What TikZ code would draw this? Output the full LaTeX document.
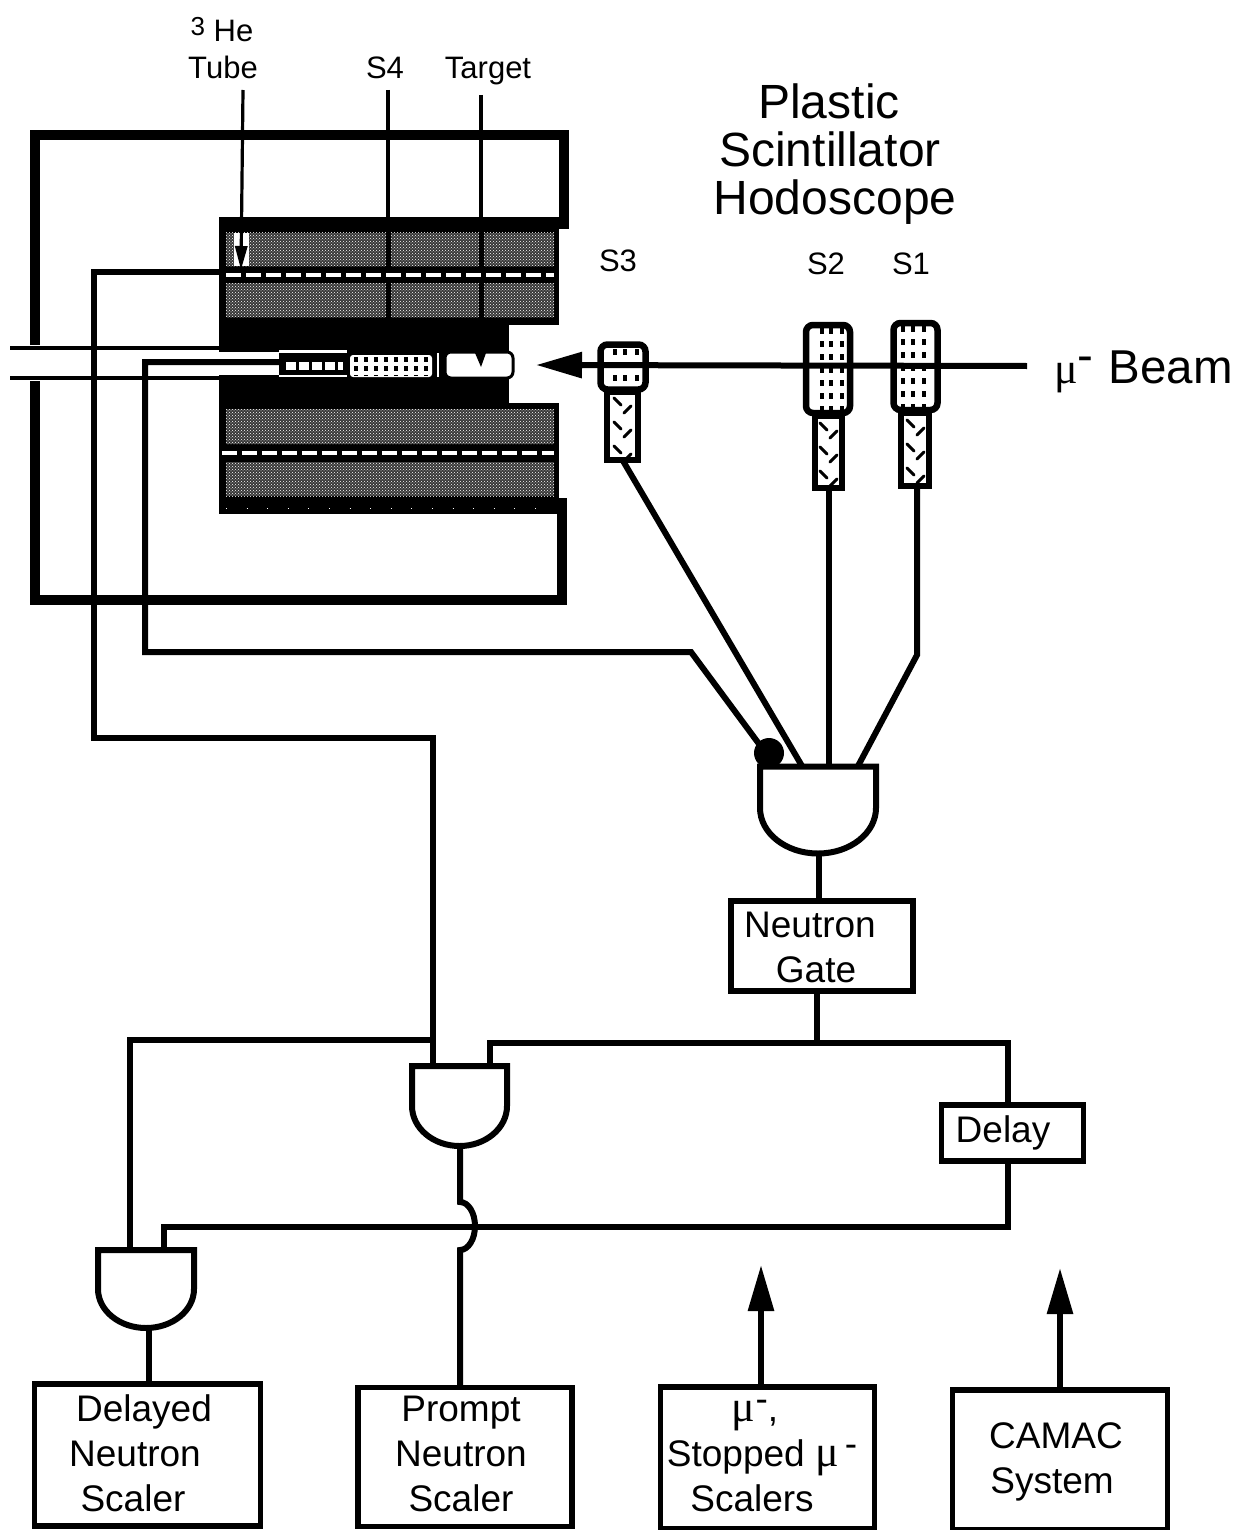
\documentclass[tikz,border=0pt]{standalone}
\usepackage{fontspec}
\setmainfont{Liberation Sans}
\newfontfamily\greekfont{Liberation Serif}
\usetikzlibrary{arrows.meta,patterns}
\newcommand{\muchar}{{\greekfont\fontsize{44}{44}\selectfont μ}}
\newcommand{\fs}[2]{\fontsize{#1}{#2}\selectfont}
\tikzset{
  x=1pt,y=-1pt,
  wire/.style={line width=6pt,line join=miter},
  thinline/.style={line width=3.2pt},
  yoke/.style={line width=10pt,line cap=butt,line join=miter},
  boxx/.style={draw,line width=5.5pt,fill=white,inner sep=0pt,outer sep=0pt},
  cnt/.style={draw,line width=6.5pt,fill=white,rounded corners=7pt,inner sep=0pt,outer sep=0pt},
  guide/.style={draw,line width=6.5pt,fill=white,inner sep=0pt,outer sep=0pt},
  gatebody/.style={draw,line width=6pt,fill=white,line join=miter},
  gatebox/.style={inner sep=0pt,outer sep=0pt},
  shade/.style={fill=black!78},
  shadetex/.style={pattern=crosshatch dots,pattern color=white},
  stripe/.style={white,line width=3.5pt,dash pattern=on 15pt off 5pt},
  lab/.style={font=\fs{31}{36},align=center,inner sep=0pt},
  boxtxt/.style={font=\fs{37}{45},align=center,inner sep=0pt},
  bigarrow/.style={line width=6pt,-{Triangle[length=46pt,width=25pt]}},
  dots/.style={line width=4.5pt,dash pattern=on 6pt off 7pt},
  chev/.style={line width=3pt,line cap=round},
}
\begin{document}
\begin{tikzpicture}
\useasboundingbox (0,0) rectangle (1239,1530);
% yoke
\draw[yoke] (35,345) -- (35,135) -- (564,135) -- (564,229);
\draw[yoke] (35,381) -- (35,600) -- (562,600) -- (562,498);
% beam pipe
\coordinate (pipeAw) at (10,348); \coordinate (pipeAe) at (230,348);
\coordinate (pipeBw) at (10,378); \coordinate (pipeBe) at (230,378);
\draw[thinline] (pipeAw) -- (pipeAe);
\draw[thinline] (pipeBw) -- (pipeBe);
% magnet block
\fill (219,217) rectangle (559,325);
\fill (219,325) rectangle (509,403);
\fill (219,403) rectangle (559,514);
% shaded areas
\foreach \ya/\yb in {233/266,283/317}{
  \foreach \xa/\xb in {226/386,391/479,484/554}{
    \fill[shade] (\xa,\ya) rectangle (\xb,\yb);
    \fill[shadetex] (\xa,\ya) rectangle (\xb,\yb);
  }
}
\foreach \ya/\yb in {409/444,462/496}{
  \fill[shade] (226,\ya) rectangle (554,\yb);
  \fill[shadetex] (226,\ya) rectangle (554,\yb);
}
\draw[stripe] (226,275) -- (554,275);
\draw[stripe] (222,453) -- (554,453);
\draw[white,line width=1pt,dash pattern=on 1pt off 19.6pt] (226,508) -- (554,508);
% beam channel and detector parts
\fill[white] (219,352) rectangle (279,375);
\fill[white] (279,350) rectangle (347,353);
\fill[white] (279,375) rectangle (347,377);
\draw[white,line width=8pt,dash pattern=on 10pt off 3pt] (286,366) -- (343,366);
\fill[white,rounded corners=3pt] (350,355) rectangle (432,377);
\foreach \xx in {356,366,376,386,396,406,416,426}
  \draw[line width=3.5pt,dash pattern=on 5pt off 4pt] (\xx,357) -- (\xx,376);
\draw[white,line width=1.5pt] (438,353) -- (438,377);
\draw[fill=white,line width=3pt,rounded corners=6pt] (445,352) rectangle (513,378);
\fill (475,353) -- (486,353) -- (481,367) -- cycle;
% tube and S4, target leaders
\fill[white] (234,233) rectangle (249,266);
\coordinate (tubeTop) at (243,90);
\coordinate (tubeTip) at (241,270);
\coordinate (s4Top) at (388,90);
\coordinate (s4Bot) at (388,217);
\coordinate (tgtTop) at (481,95);
\coordinate (tgtBot) at (481,217);
\draw[thinline,-{Triangle[length=24pt,width=12pt]}] (tubeTop) -- (tubeTip);
\draw[thinline] (s4Top) -- (s4Bot);
\draw[thinline] (tgtTop) -- (tgtBot);
% wires from detectors
\coordinate (heEnd) at (222,272);
\coordinate (detEnd) at (280,362);
\coordinate (blobEnd) at (762,748);
% labels top
\node[lab] (he3) at (222,30) {\raisebox{6pt}{\fs{26}{30}3} He};
\node[lab] (tube) at (223,67) {Tube};
\node[lab] (s4) at (385,68) {S4};
\node[lab] (target) at (488,71) {Target};
\node[inner sep=0pt,align=center,font=\fs{48}{48}] (hodo) at (835,154) {\hspace*{-12pt}Plastic\\\hspace*{-10pt}Scintillator\\Hodoscope};
\node[lab] (s3lab) at (618,261) {S3};
\node[lab] (s2lab) at (826,264) {S2};
\node[lab] (s1lab) at (911,264) {S1};
% counters
\node[guide,minimum width=31pt,minimum height=68pt] (s3g) at (622.5,426) {};
\node[guide,minimum width=27pt,minimum height=72pt] (s2g) at (828.5,452) {};
\node[guide,minimum width=28pt,minimum height=73pt] (s1g) at (915,449.5) {};
\node[cnt,minimum width=45pt,minimum height=45pt] (s3c) at (623,367) {};
\node[cnt,minimum width=44pt,minimum height=88pt] (s2c) at (828,369) {};
\node[cnt,minimum width=44pt,minimum height=87pt] (s1c) at (915.5,366.5) {};
\foreach \xx in {615,625,637} \draw[dots] (\xx,349) -- (\xx,387);
\foreach \xx in {822,831,842} \draw[dots] (\xx,328) -- (\xx,411);
\foreach \xx in {903,913,924} \draw[dots] (\xx,326) -- (\xx,408);
\foreach \cx/\ya/\yb in {622/398/452,828/423/482,915/420/480}{
  \foreach \yy in {0,24,48}{
    \ifdim\dimexpr\ya pt+\yy pt\relax<\yb pt
      \draw[chev] (\cx-8,\ya+\yy) -- ++(7,7);
      \draw[chev] (\cx+9,\ya+\yy+8) -- ++(-7,7);
    \fi
  }
}
% beam
\coordinate (beamStart) at (1027,366);
\coordinate (beamTip) at (536,365);
\draw[bigarrow] (beamStart) -- (beamTip);
\node[inner sep=0pt,anchor=west,font=\fs{47.5}{50}] (beamlab) at (1054,372) {\muchar\raisebox{12pt}{-}\hspace{2pt} Beam};
% logic gates (invisible frames give the anchors)
\node[gatebox,minimum width=116pt,minimum height=87pt] (gA) at (818,810) {};
\node[gatebox,minimum width=95pt,minimum height=80pt] (gB) at (459.5,1106) {};
\node[gatebox,minimum width=96pt,minimum height=78pt] (gC) at (146,1289) {};
\draw[gatebody] (gA.north west) -- (760,808) arc[start angle=180,end angle=0,x radius=58,y radius=45.5] -- (gA.north east) -- cycle;
\draw[gatebody] (gB.north west) -- (412,1106) arc[start angle=180,end angle=0,x radius=47.5,y radius=40] -- (gB.north east) -- cycle;
\draw[gatebody] (gC.north west) -- (98,1289) arc[start angle=180,end angle=0,x radius=48,y radius=39] -- (gC.north east) -- cycle;
\node[circle,fill=black,inner sep=0pt,minimum size=30pt] (blob) at (769,753) {};
% boxes
\node[boxx,minimum width=182pt,minimum height=90pt] (ngate) at (822,946) {};
\node[boxx,minimum width=142pt,minimum height=56pt] (delay) at (1012.5,1133) {};
\node[boxx,minimum width=226pt,minimum height=142pt] (dscal) at (147.5,1455) {};
\node[boxx,minimum width=214pt,minimum height=139pt] (pscal) at (465,1457) {};
\node[boxx,minimum width=214pt,minimum height=142pt] (sscal) at (767.5,1458) {};
\node[boxx,minimum width=215pt,minimum height=140pt] (camac) at (1060,1460) {};
% connectors
\draw[wire] (heEnd) -- (94,272) -- (94,738) -- (433,738) -- (433,1066);
\draw[wire] (detEnd) -- (145,362) -- (145,652) -- (691,652) -- (blobEnd);
\draw[wire] (s3g.south) -- (802,766);
\draw[wire] (s2g.south) -- (s2g.south |- gA.north);
\draw[wire] (s1g.south -| 917,0) -- (917,655) -- (858,766);
\draw[wire] (819,853) -- (ngate.north -| 819,0);
\draw[wire] (ngate.south -| 817,0) -- (817,1043);
\draw[wire] (490,1066) -- (490,1043) -- (1008,1043) -- (delay.north -| 1008,0);
\draw[wire] (delay.south -| 1008,0) -- (1008,1227) -- (164,1227) -- (164,1250);
\draw[wire] (433,1040) -- (130,1040) -- (130,1250);
\draw[wire] (149,1328) -- (dscal.north -| 149,0);
\coordinate (hopT) at (460,1202);
\coordinate (hopB) at (460,1250);
\draw[wire] (460,1146) -- (hopT) arc[start angle=-90,end angle=90,x radius=15,y radius=24] -- (pscal.north -| 460,0);
\coordinate (arrA) at (761,1265);
\coordinate (arrB) at (1060,1268);
\draw[bigarrow] (sscal.north -| 761,0) -- (arrA);
\draw[bigarrow] (camac.north -| 1060,0) -- (arrB);
% texts
\node[boxtxt] (ngatetxt) at (810,947) {Neutron\\\hspace*{12pt}Gate};
\node[boxtxt] (delaytxt) at (1003,1133) {Delay};
\node[boxtxt] (dtxt) at (135,1453) {\hspace*{18pt}Delayed\\Neutron\\\hspace*{-4pt}Scaler};
\node[boxtxt] (ptxt) at (461,1454) {Prompt\\Neutron\\Scaler};
\node[boxtxt] (stxt) at (762,1456) {\hspace*{-14pt}\muchar\raisebox{10pt}{-},\\Stopped \muchar\raisebox{10pt}{\,-}\\\hspace*{-20pt}Scalers};
\node[boxtxt] (ctxt) at (1054,1462) {\hspace*{4pt}CAMAC\\\hspace*{-4pt}System};
\end{tikzpicture}
\end{document}
